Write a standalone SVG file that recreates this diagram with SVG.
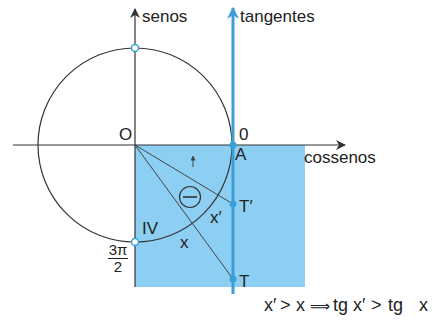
<svg xmlns="http://www.w3.org/2000/svg" width="437" height="325" viewBox="0 0 437 325">
<style>
text{font-family:"Liberation Sans",Arial,sans-serif;fill:#222}
.lbl{font-size:17px}
.ax{stroke:#333;stroke-width:1.2;fill:none}
.thin{stroke:#444;stroke-width:1;fill:none}
</style>
<defs>
<marker id="ad" viewBox="0 0 10 10" refX="9" refY="5" markerWidth="10" markerHeight="10" markerUnits="userSpaceOnUse" orient="auto"><path d="M0,0 L10,5 L0,10 L3,5 Z" fill="#333"/></marker>
<marker id="ab" viewBox="0 0 10 10" refX="9" refY="5" markerWidth="12" markerHeight="12" markerUnits="userSpaceOnUse" orient="auto"><path d="M0,0 L10,5 L0,10 L3,5 Z" fill="#3a9fd9"/></marker>
<marker id="as" viewBox="0 0 10 10" refX="9" refY="5" markerWidth="5" markerHeight="5" markerUnits="userSpaceOnUse" orient="auto"><path d="M0,0 L10,5 L0,10 Z" fill="#444"/></marker>
</defs>
<rect x="135" y="145" width="170" height="142" fill="#8dcff2"/>
<g id="connectors">
<line class="ax" x1="13" y1="145" x2="345" y2="145" marker-end="url(#ad)"/>
<line class="ax" x1="135" y1="287" x2="135" y2="9" marker-end="url(#ad)"/>
<circle class="ax" cx="135" cy="145" r="97"/>
<line class="thin" x1="135" y1="145" x2="233" y2="204"/>
<line class="thin" x1="135" y1="145" x2="233" y2="279"/>
<line class="thin" x1="193" y1="167" x2="193" y2="156" marker-end="url(#as)"/>
<line x1="233" y1="294" x2="233" y2="8" stroke="#3a9fd9" stroke-width="3" marker-end="url(#ab)"/>
</g>
<g id="points">
<circle cx="135" cy="48" r="3.5" fill="#fff" stroke="#3a9fd9" stroke-width="1.5"/>
<circle cx="135" cy="242" r="3.5" fill="#fff" stroke="#3a9fd9" stroke-width="1.5"/>
<circle cx="233" cy="145" r="3.5" fill="#3a9fd9"/>
<circle cx="233" cy="204" r="3.5" fill="#3a9fd9"/>
<circle cx="233" cy="279" r="3.5" fill="#3a9fd9"/>
</g>
<g id="minus">
<circle cx="190" cy="197" r="10.5" fill="none" stroke="#333" stroke-width="1.2"/>
<line x1="183" y1="197" x2="197" y2="197" stroke="#333" stroke-width="1.6"/>
</g>
<g id="labels">
<text class="lbl" x="142" y="22" font-size="18">senos</text>
<text class="lbl" x="240" y="22" font-size="18">tangentes</text>
<text class="lbl" x="304" y="163" font-size="18">cossenos</text>
<text class="lbl" x="119" y="140">O</text>
<text class="lbl" x="239" y="140">0</text>
<text class="lbl" x="235" y="160">A</text>
<text class="lbl" x="239" y="212">T′</text>
<text class="lbl" x="239" y="287">T</text>
<text class="lbl" x="210" y="223" font-size="18">x′</text>
<text class="lbl" x="180" y="248" font-size="18">x</text>
<text class="lbl" x="142" y="234">IV</text>
<text x="118" y="255" font-size="15" text-anchor="middle">3π</text>
<line x1="108" y1="258.5" x2="128" y2="258.5" stroke="#222" stroke-width="1"/>
<text x="118" y="272" font-size="15" text-anchor="middle">2</text>
</g>
<g id="formula">
<text y="311" font-size="18"><tspan x="264">x′</tspan><tspan x="280">&gt;</tspan><tspan x="296">x</tspan><tspan x="310" font-size="14">⟹</tspan><tspan x="333">tg</tspan><tspan x="353">x′</tspan><tspan x="371">&gt;</tspan><tspan x="388">tg</tspan><tspan x="419">x</tspan></text>
</g>
</svg>
